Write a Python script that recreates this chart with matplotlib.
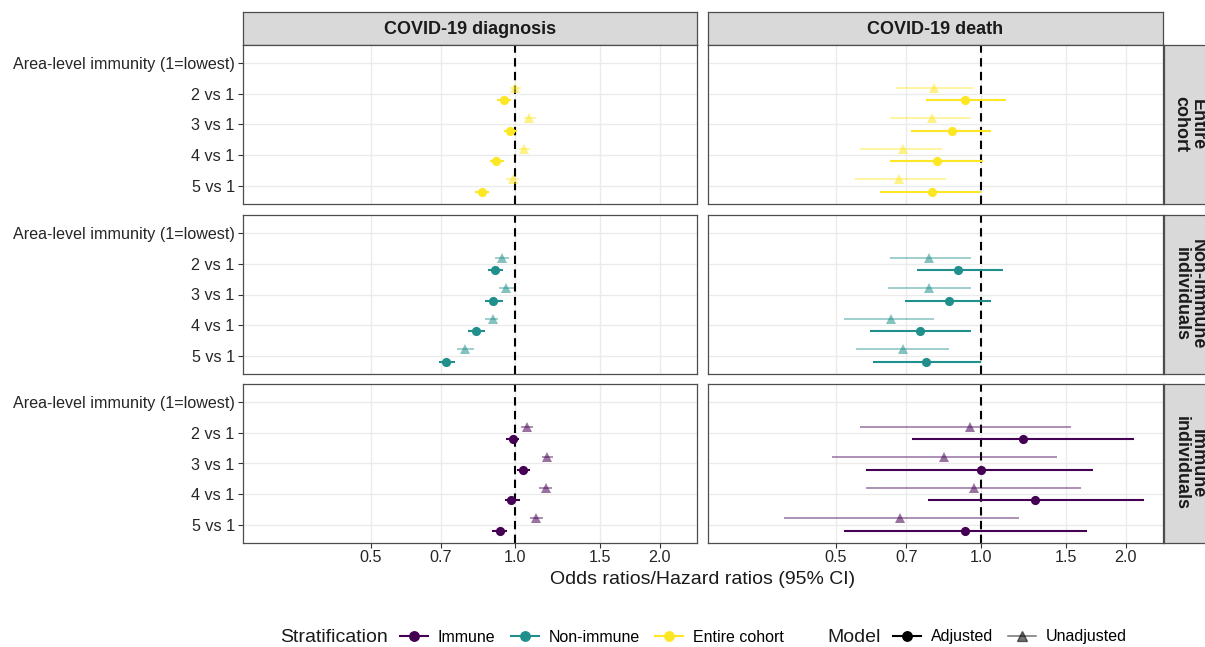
import matplotlib
matplotlib.use("Agg")
import matplotlib.pyplot as plt
from matplotlib.lines import Line2D
import numpy as np

plt.rcParams['font.family'] = ['Liberation Sans', 'DejaVu Sans']

# ---------------- data ----------------
categories = ["Area-level immunity (1=lowest)", "2 vs 1", "3 vs 1", "4 vs 1", "5 vs 1"]
comparisons = ["2 vs 1", "3 vs 1", "4 vs 1", "5 vs 1"]
outcomes = ["COVID-19 diagnosis", "COVID-19 death"]
strata = ["Entire cohort", "Non-immune individuals", "Immune individuals"]
strata_legend = ["Immune", "Non-immune", "Entire cohort"]
x_ticks = [0.5, 0.7, 1.0, 1.5, 2.0]
x_tick_labels = ["0.5", "0.7", "1.0", "1.5", "2.0"]

# Entire cohort - diagnosis
entire_diag_adj_est = [0.947, 0.976, 0.913, 0.851]
entire_diag_adj_lo = [0.916, 0.948, 0.884, 0.824]
entire_diag_adj_hi = [0.980, 1.010, 0.948, 0.880]
entire_diag_unadj_est = [1.000, 1.070, 1.044, 0.987]
entire_diag_unadj_lo = [0.976, 1.044, 1.018, 0.955]
entire_diag_unadj_hi = [1.030, 1.105, 1.074, 1.016]
# Entire cohort - death
entire_death_adj_est = [0.928, 0.870, 0.810, 0.790]
entire_death_adj_lo = [0.768, 0.717, 0.648, 0.618]
entire_death_adj_hi = [1.130, 1.052, 1.011, 1.000]
entire_death_unadj_est = [0.800, 0.790, 0.690, 0.677]
entire_death_unadj_lo = [0.667, 0.648, 0.560, 0.548]
entire_death_unadj_hi = [0.961, 0.952, 0.830, 0.845]

# Non-immune - diagnosis
nonimm_diag_adj_est = [0.907, 0.897, 0.827, 0.719]
nonimm_diag_adj_lo = [0.876, 0.866, 0.797, 0.695]
nonimm_diag_adj_hi = [0.941, 0.941, 0.863, 0.750]
nonimm_diag_unadj_est = [0.938, 0.956, 0.897, 0.787]
nonimm_diag_unadj_lo = [0.909, 0.926, 0.866, 0.757]
nonimm_diag_unadj_hi = [0.968, 0.992, 0.919, 0.822]
# Non-immune - death
nonimm_death_adj_est = [0.897, 0.858, 0.749, 0.769]
nonimm_death_adj_lo = [0.738, 0.697, 0.589, 0.598]
nonimm_death_adj_hi = [1.112, 1.052, 0.952, 1.000]
nonimm_death_unadj_est = [0.779, 0.779, 0.650, 0.690]
nonimm_death_unadj_lo = [0.648, 0.640, 0.520, 0.549]
nonimm_death_unadj_hi = [0.952, 0.952, 0.800, 0.860]

# Immune - diagnosis
immune_diag_adj_est = [0.989, 1.037, 0.978, 0.928]
immune_diag_adj_lo = [0.958, 1.008, 0.953, 0.894]
immune_diag_adj_hi = [1.020, 1.071, 1.024, 0.961]
immune_diag_unadj_est = [1.057, 1.167, 1.156, 1.106]
immune_diag_unadj_lo = [1.030, 1.136, 1.123, 1.074]
immune_diag_unadj_hi = [1.088, 1.200, 1.192, 1.140]
# Immune - death
immune_death_adj_est = [1.224, 1.000, 1.298, 0.928]
immune_death_adj_lo = [0.718, 0.578, 0.776, 0.519]
immune_death_adj_hi = [2.080, 1.708, 2.179, 1.660]
immune_death_unadj_est = [0.949, 0.839, 0.967, 0.680]
immune_death_unadj_lo = [0.560, 0.490, 0.578, 0.390]
immune_death_unadj_hi = [1.536, 1.439, 1.616, 1.200]

colors = {"Immune": "#440154", "Non-immune": "#21908C", "Entire cohort": "#FDE725"}

panel_data = {
    ("Entire cohort", 0): ("Entire cohort",
        (entire_diag_adj_est, entire_diag_adj_lo, entire_diag_adj_hi),
        (entire_diag_unadj_est, entire_diag_unadj_lo, entire_diag_unadj_hi)),
    ("Entire cohort", 1): ("Entire cohort",
        (entire_death_adj_est, entire_death_adj_lo, entire_death_adj_hi),
        (entire_death_unadj_est, entire_death_unadj_lo, entire_death_unadj_hi)),
    ("Non-immune individuals", 0): ("Non-immune",
        (nonimm_diag_adj_est, nonimm_diag_adj_lo, nonimm_diag_adj_hi),
        (nonimm_diag_unadj_est, nonimm_diag_unadj_lo, nonimm_diag_unadj_hi)),
    ("Non-immune individuals", 1): ("Non-immune",
        (nonimm_death_adj_est, nonimm_death_adj_lo, nonimm_death_adj_hi),
        (nonimm_death_unadj_est, nonimm_death_unadj_lo, nonimm_death_unadj_hi)),
    ("Immune individuals", 0): ("Immune",
        (immune_diag_adj_est, immune_diag_adj_lo, immune_diag_adj_hi),
        (immune_diag_unadj_est, immune_diag_unadj_lo, immune_diag_unadj_hi)),
    ("Immune individuals", 1): ("Immune",
        (immune_death_adj_est, immune_death_adj_lo, immune_death_adj_hi),
        (immune_death_unadj_est, immune_death_unadj_lo, immune_death_unadj_hi)),
}

# ---------------- layout ----------------
W, H = 1205, 647
fig = plt.figure(figsize=(W / 100, H / 100), dpi=100)

def box(x0, y0, x1, y1):
    return [x0 / W, 1 - y1 / H, (x1 - x0) / W, (y1 - y0) / H]

col_x = [(243, 697), (708, 1163)]
row_y = [(45, 204), (215, 374), (384, 543)]
border_c = "#4d4d4d"
strip_bg = "#d9d9d9"
dodge = 0.21
xlim = (0.271, 2.39)

for ci, (x0, x1) in enumerate(col_x):
    sax = fig.add_axes(box(x0, 12, x1, 45))
    sax.set_facecolor(strip_bg)
    sax.set_xticks([]); sax.set_yticks([])
    for s in sax.spines.values():
        s.set_color(border_c); s.set_linewidth(0.9)
    sax.text(0.5, 0.47, outcomes[ci], ha="center", va="center",
             fontsize=13, fontweight="bold", color="#1a1a1a", transform=sax.transAxes)

for ri, (y0, y1) in enumerate(row_y):
    sax = fig.add_axes(box(1164, y0, 1240, y1))
    sax.set_facecolor(strip_bg)
    sax.set_xticks([]); sax.set_yticks([])
    for s in sax.spines.values():
        s.set_color(border_c); s.set_linewidth(0.9)
    label = strata[ri].replace(" ", "\n", 1)
    sax.text((1189 - 1164) / 76, 0.5, label, ha="center", va="center", rotation=270,
             fontsize=13, fontweight="bold", color="#1a1a1a", transform=sax.transAxes,
             linespacing=0.9)

    for ci, (x0, x1) in enumerate(col_x):
        ax = fig.add_axes(box(x0, y0, x1, y1))
        ax.set_xscale("log")
        ax.set_xlim(*xlim)
        ax.set_ylim(len(categories) - 1 + 0.6, -0.6)
        ax.set_xticks(x_ticks)
        ax.set_xticklabels(x_tick_labels if ri == 2 else [])
        ax.xaxis.set_minor_locator(matplotlib.ticker.NullLocator())
        ax.set_yticks(range(len(categories)))
        ax.set_yticklabels(categories if ci == 0 else [])
        ax.tick_params(axis="both", length=3.5, width=0.8, color="#333333",
                       labelsize=11.6, labelcolor="#262626", pad=2.5)
        ax.tick_params(axis="x", pad=1.2)
        if ci == 1:
            ax.tick_params(axis="y", length=0)
        if ri != 2:
            ax.tick_params(axis="x", length=0)
        ax.grid(True, color="#ebebeb", linewidth=1.0)
        ax.set_axisbelow(True)
        for s in ax.spines.values():
            s.set_color(border_c); s.set_linewidth(0.9)

        ax.axvline(1.0, color="black", linestyle=(0, (4, 2.6)), linewidth=1.5, zorder=2)

        key, adj, unadj = panel_data[(strata[ri], ci)]
        c = colors[key]
        ypos = np.arange(1, len(comparisons) + 1)
        # unadjusted (upper, lighter)
        est, lo, hi = map(np.array, unadj)
        ax.errorbar(est, ypos - dodge, xerr=[est - lo, hi - est], fmt="^", color=c,
                    alpha=0.55, ms=6.8, elinewidth=1.1, capsize=1.3, capthick=1.1,
                    mew=0, zorder=3)
        # adjusted (lower, solid)
        est, lo, hi = map(np.array, adj)
        ax.errorbar(est, ypos + dodge, xerr=[est - lo, hi - est], fmt="o", color=c,
                    ms=6.6, elinewidth=1.5, capsize=1.3, capthick=1.5, mew=0, zorder=4)

fig.text(703 / W, 1 - 580 / H, "Odds ratios/Hazard ratios (95% CI)", ha="center",
         va="center", fontsize=14, color="#1a1a1a")

# ---------------- legends ----------------
leg_y = 1 - 637 / H
fig.text(388 / W, leg_y, "Stratification", ha="right", va="center", fontsize=14,
         color="#1a1a1a")
strat_handles = [Line2D([], [], color=colors[k], marker="o", lw=1.5, ms=6.8)
                 for k in strata_legend]
leg_kw = dict(loc="center left", frameon=False, fontsize=11.5, handlelength=1.75,
              handletextpad=0.62, columnspacing=0.95, borderaxespad=0, borderpad=0)
leg1 = fig.legend(strat_handles, strata_legend, bbox_to_anchor=(400 / W, leg_y),
                  ncol=3, **leg_kw)
fig.text(827 / W, leg_y, "Model", ha="left", va="center", fontsize=14,
         color="#1a1a1a")
model_labels = ["Adjusted", "Unadjusted"]
model_handles = [Line2D([], [], color="black", marker="o", lw=1.5, ms=6.8),
                 Line2D([], [], color="black", alpha=0.55, marker="^", lw=1.1, ms=7.0)]
leg2 = fig.legend(model_handles, model_labels, bbox_to_anchor=(893 / W, leg_y),
                  ncol=2, **leg_kw)

fig.savefig("out.png", dpi=100)
